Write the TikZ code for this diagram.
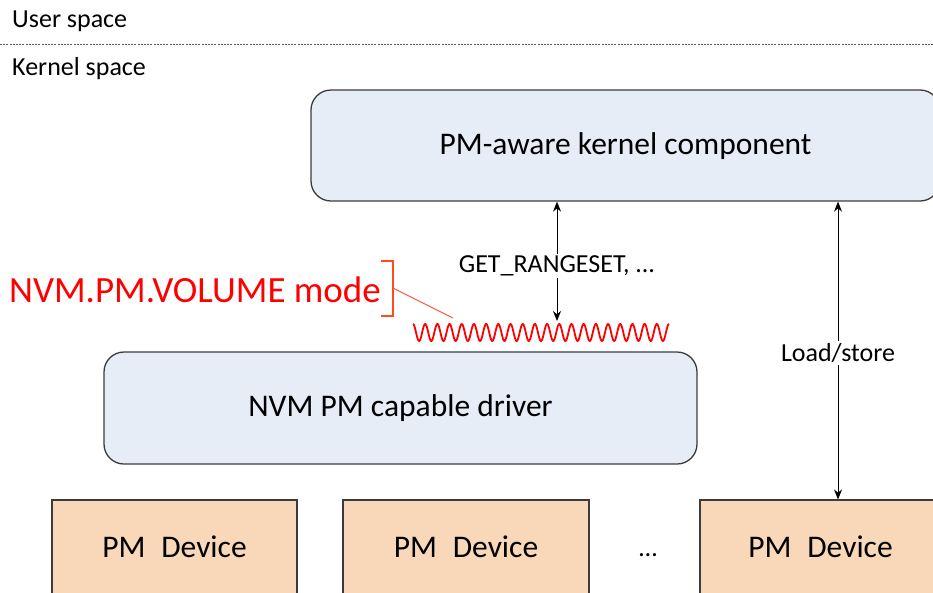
\documentclass[tikz,border=0pt]{standalone}
\usepackage{fontspec}
\setmainfont{Carlito}
\usetikzlibrary{arrows.meta}
\definecolor{boxblue}{HTML}{E7EDF6}
\definecolor{peach}{HTML}{F9D8BA}
\definecolor{edge}{HTML}{3C3C3C}
\definecolor{bracketred}{HTML}{FF4A22}
\tikzset{
  bluebox/.style={draw=edge, fill=boxblue, line width=1.3pt, rounded corners=20pt, inner sep=0pt, font=\fontsize{31.5}{36}\selectfont},
  devbox/.style={draw=edge, fill=peach, line width=1.1pt, inner sep=0pt, font=\fontsize{31.5}{36}\selectfont},
  smalltxt/.style={inner sep=0pt, font=\fontsize{26}{30}\selectfont},
  lbl/.style={smalltxt, fill=white, inner sep=2pt},
  dblarrow/.style={line width=0.9pt, {Stealth[length=10pt,width=8pt]}-{Stealth[length=10pt,width=8pt]}},
}
\begin{document}
\begin{tikzpicture}[x=1pt,y=-1pt]
\useasboundingbox (0,0) rectangle (933,592);
\clip (0,0) rectangle (933,592);
% separator
\coordinate (sepL) at (0,44);
\coordinate (sepR) at (933,44);
\draw[gray!70!black, line width=0.8pt, dash pattern=on 2pt off 1.2pt] (sepL) -- (sepR);
\node[smalltxt, anchor=west] (user) at (12,21) {User space};
\node[smalltxt, anchor=west] (kernel) at (12,69) {Kernel space};
% boxes
\node[bluebox, minimum width=629pt, minimum height=111pt, text depth=4pt] (top) at (625.5,145.5) {PM-aware kernel component};
\node[bluebox, minimum width=593pt, minimum height=112pt, text depth=4pt] (drv) at (400.5,408) {NVM PM capable driver};
\node[devbox, minimum width=245pt, minimum height=94pt] (dev1) at (174.5,547) {PM\hspace{0.5em}Device};
\node[devbox, minimum width=246pt, minimum height=94pt] (dev2) at (466,547) {PM\hspace{0.5em}Device};
\node[devbox, minimum width=241pt, minimum height=94pt] (dev3) at (820.5,547) {PM\hspace{0.5em}Device};
\node[smalltxt, anchor=base] (dots) at (648,556) {…};
% wave
\draw[red, line width=1.8pt] plot[domain=0:256, samples=500, smooth] ({\x+413}, {332.5 - 8.5*cos(29.532*\x)});
\coordinate (wtop) at (557,321);
% arrow 1
\draw[dblarrow] (top.south -| wtop) -- (wtop);
\node[lbl] (get) at (557,266) {GET\_RANGESET, ...};
% arrow 2
\coordinate (lsx) at (838,353);
\draw[dblarrow] (top.south -| lsx) -- (dev3.north -| lsx);
\node[lbl] (ls) at (lsx) {Load/store};
% red annotation
\node[inner sep=0pt, text=red, font=\fontsize{37}{42}\selectfont, anchor=west] (mode) at (9,290) {NVM.PM.VOLUME mode};
\coordinate (bt) at (381,261);
\coordinate (bb) at (381,316);
\coordinate (bm) at (393,288);
\coordinate (wv) at (453,318);
\draw[bracketred, line width=1.1pt] (bt) -- (bt -| bm) -- (bb -| bm) -- (bb);
\draw[bracketred, line width=0.9pt] (bm) -- (wv);
\end{tikzpicture}
\end{document}
